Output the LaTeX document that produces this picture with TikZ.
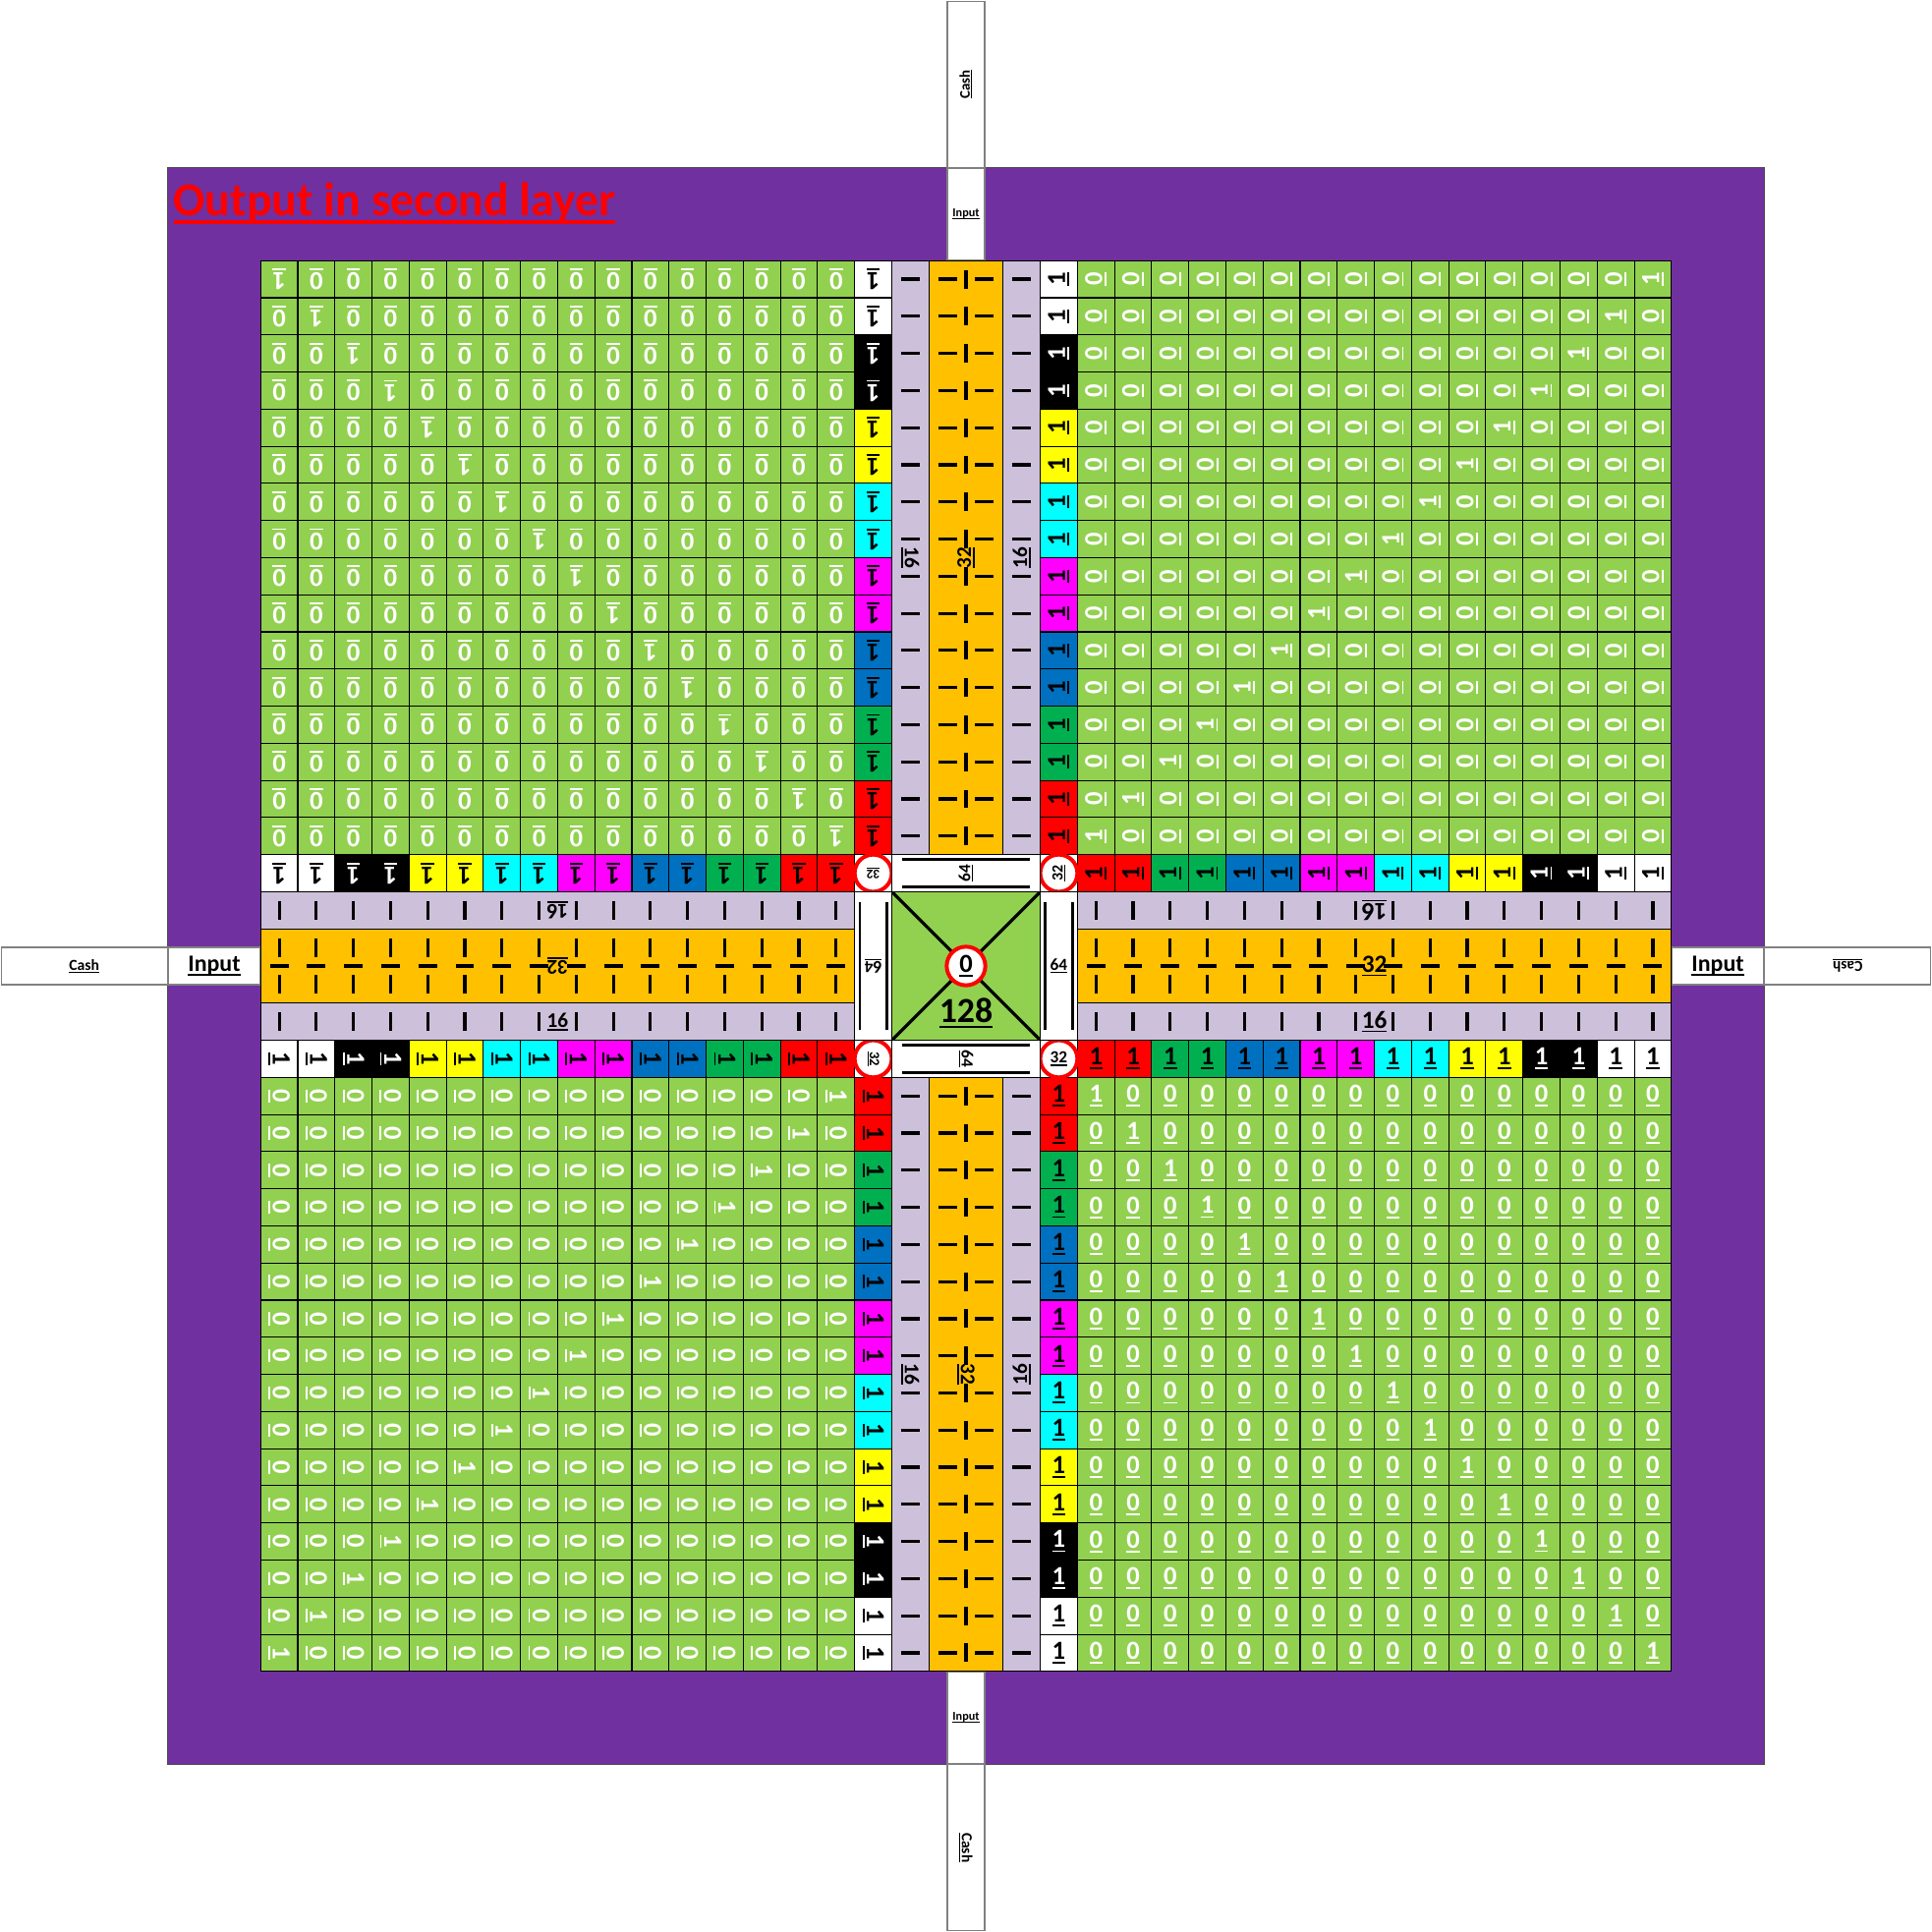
\documentclass[tikz,border=0pt]{standalone}
\usepackage{fontspec}
\setmainfont{Carlito}
\definecolor{cellgreen}{HTML}{92D050}
\definecolor{boardpurple}{HTML}{7030A0}
\definecolor{laneorange}{HTML}{FFC000}
\definecolor{lanelilac}{HTML}{CCC0DA}
\definecolor{bandgreen}{HTML}{00B050}
\definecolor{bandblue}{HTML}{0070C0}
\definecolor{bandcyan}{HTML}{00FFFF}
\definecolor{bandmagenta}{HTML}{FF00FF}
\definecolor{bandyellow}{HTML}{FFFF00}
\definecolor{bandred}{HTML}{FF0000}
\newcommand{\ulbox}[1]{\setbox0=\hbox{#1}\leavevmode\rlap{\vrule height -0.1em depth 0.17em width \wd0}\box0}
\newcommand{\fsz}[1]{\fontsize{#1}{#1}\selectfont}
\begin{document}
\begin{tikzpicture}[x=0.5cm,y=-0.5cm,
  cell/.style={draw=black,line width=0.4pt,minimum size=0.5cm,inner sep=0pt,font=\fsz{10}\bfseries},
  lane/.style={draw=black,line width=0.4pt},
  tick/.style={line width=1.2pt},
  rail/.style={line width=1.1pt},
  ring/.style={circle,draw=bandred,line width=1.5pt,fill=white,inner sep=0pt,minimum size=0.5cm},
  tag/.style={inner sep=0pt,font=\fsz{8}\bfseries},
  strip/.style={draw=gray,line width=0.6pt,fill=white}]
\useasboundingbox (-7.02,-7.02) rectangle (45.02,45.02);
\fill[white] (-7.02,-7.02) rectangle (45.02,45.02);
% board
\draw[fill=boardpurple,draw=gray!60!black,line width=0.5pt] (-2.5,-2.5) rectangle (40.5,40.5);
\node[anchor=base west,inner sep=0pt,text=bandred,font=\fsz{18}\bfseries] (title) at (-2.36,-1.21) {\ulbox{Output in second layer}};
% cash and input strips
\draw[strip] (18.5,-6.98) rectangle (19.5,-2.5);
\draw[strip] (18.5,-2.5) rectangle (19.5,0);
\draw[strip] (-6.98,18.5) rectangle (-2.5,19.5);
\draw[strip] (-2.5,18.5) rectangle (0,19.5);
\draw[strip] (38,18.5) rectangle (40.5,19.5);
\draw[strip] (40.5,18.5) rectangle (44.98,19.5);
\draw[strip] (18.5,38) rectangle (19.5,40.5);
\draw[strip] (18.5,40.5) rectangle (19.5,44.98);
\node[rotate=90,font=\fsz{5.6}\bfseries] (cash-n) at (19,-4.75) {\ulbox{Cash}};
\node[font=\fsz{4.6}\bfseries] (input-n) at (19,-1.25) {\ulbox{Input}};
\node[font=\fsz{5.9}\bfseries] (cash-w) at (-4.75,19) {\ulbox{Cash}};
\node[font=\fsz{9}\bfseries] (input-w) at (-1.25,19) {\ulbox{Input}};
\node[font=\fsz{9}\bfseries] (input-e) at (39.25,19) {\ulbox{Input}};
\node[rotate=180,font=\fsz{5.8}\bfseries] (cash-e) at (42.75,19) {\ulbox{Cash}};
\node[font=\fsz{4.6}\bfseries] (input-s) at (19,39.25) {\ulbox{Input}};
\node[rotate=-90,font=\fsz{5.8}\bfseries] (cash-s) at (19,42.75) {\ulbox{Cash}};
% green quadrants
\foreach \ro/\co/\rot in {0/0/180,0/22/90,22/0/-90,22/22/0}
  \foreach \i in {0,...,15}
    \foreach \j in {0,...,15} {
      \pgfmathtruncatemacro\rowi{\ro+\i}
      \pgfmathtruncatemacro\coli{\co+\j}
      \pgfmathtruncatemacro\bit{(\coli==\rowi)+(\coli+\rowi==37)}
      \node[cell,fill=cellgreen,text=white,rotate=\rot] (g-\rowi-\coli) at (\coli+0.5,\rowi+0.5) {\ulbox{\bit}};
    }
% coloured bands
\foreach \clr/\ink [count=\i from 0] in {white/black,white/black,black/white,black/white,bandyellow/black,bandyellow/black,bandcyan/black,bandcyan/black,bandmagenta/black,bandmagenta/black,bandblue/black,bandblue/black,bandgreen/black,bandgreen/black,bandred/black,bandred/black} {
  \pgfmathtruncatemacro\k{37-\i}
  \node[cell,fill=\clr,text=\ink,rotate=180] (col16-\i) at (16.5,\i+0.5) {\ulbox{1}};
  \node[cell,fill=\clr,text=\ink,rotate=-90] (col16-\k) at (16.5,\k+0.5) {\ulbox{1}};
  \node[cell,fill=\clr,text=\ink,rotate=90] (col21-\i) at (21.5,\i+0.5) {\ulbox{1}};
  \node[cell,fill=\clr,text=\ink] (col21-\k) at (21.5,\k+0.5) {\ulbox{1}};
  \node[cell,fill=\clr,text=\ink,rotate=180] (row16-\i) at (\i+0.5,16.5) {\ulbox{1}};
  \node[cell,fill=\clr,text=\ink,rotate=90] (row16-\k) at (\k+0.5,16.5) {\ulbox{1}};
  \node[cell,fill=\clr,text=\ink,rotate=-90] (row21-\i) at (\i+0.5,21.5) {\ulbox{1}};
  \node[cell,fill=\clr,text=\ink] (row21-\k) at (\k+0.5,21.5) {\ulbox{1}};
}
% lanes
\foreach \a/\b in {0/16,22/38} {
  \draw[lane,fill=lanelilac] (17,\a) rectangle (18,\b);
  \draw[lane,fill=laneorange] (18,\a) rectangle (20,\b);
  \draw[lane,fill=lanelilac] (20,\a) rectangle (21,\b);
  \draw[lane,fill=lanelilac] (\a,17) rectangle (\b,18);
  \draw[lane,fill=laneorange] (\a,18) rectangle (\b,20);
  \draw[lane,fill=lanelilac] (\a,20) rectangle (\b,21);
}
\foreach \a in {0,22}
  \foreach \i in {0,...,15} {
    \pgfmathsetmacro\m{\a+\i+0.5}
    \draw[tick] (17.25,\m) -- (17.75,\m) (20.25,\m) -- (20.75,\m)
                (18.25,\m) -- (18.75,\m) (19.25,\m) -- (19.75,\m)
                (19,\m-0.25) -- (19,\m+0.25);
    \draw[tick] (\m,17.25) -- (\m,17.75) (\m,20.25) -- (\m,20.75)
                (\m,18.25) -- (\m,18.75) (\m,19.25) -- (\m,19.75)
                (\m-0.25,19) -- (\m+0.25,19);
  }
\node[tag,rotate=180] (t16-nw) at (8,17.5) {\ulbox{16}};
\node[tag,rotate=180] (t32-w) at (8,19) {\ulbox{32}};
\node[tag] (t16-sw) at (8,20.5) {\ulbox{16}};
\node[tag,rotate=180,font=\fsz{9.5}\bfseries] (t16-ne) at (30,17.5) {\ulbox{16}};
\node[tag,font=\fsz{9.5}\bfseries] (t32-e) at (30,19) {\ulbox{32}};
\node[tag,font=\fsz{9.5}\bfseries] (t16-se) at (30,20.5) {\ulbox{16}};
\node[tag,rotate=-90] (t16-wn) at (17.5,8) {\ulbox{16}};
\node[tag,rotate=90] (t32-n) at (19,8) {\ulbox{32}};
\node[tag,rotate=90] (t16-en) at (20.5,8) {\ulbox{16}};
\node[tag,rotate=-90] (t16-ws) at (17.5,30) {\ulbox{16}};
\node[tag,rotate=-90] (t32-s) at (19,30) {\ulbox{32}};
\node[tag,rotate=90] (t16-es) at (20.5,30) {\ulbox{16}};
% centre
\node[lane,fill=cellgreen,minimum size=2cm,inner sep=0pt] (hub) at (19,19) {};
\draw[line width=1.2pt] (hub.north west) -- (hub.south east) (hub.north east) -- (hub.south west);
\node[ring,minimum size=0.52cm,font=\fsz{10}\bfseries] (zero) at (hub) {\ulbox{0}};
\node[anchor=base,inner sep=0pt,font=\fsz{13.5}\bfseries] (total) at (19,20.51) {\ulbox{128}};
\foreach \x/\y/\rot/\sz/\nm in {16.5/16.5/180/5/tl,21.5/16.5/90/6/tr,16.5/21.5/-90/5.5/bl,21.5/21.5/0/6.5/br} {
  \node[cell,fill=white] (corner-\nm) at (\x,\y) {};
  \node[ring,rotate=\rot,font=\fsz{\sz}\bfseries] (ring-\nm) at (corner-\nm) {\ulbox{32}};
}
\node[lane,fill=white,minimum width=2cm,minimum height=0.5cm,inner sep=0pt] (box-n) at (19,16.5) {};
\node[lane,fill=white,minimum width=2cm,minimum height=0.5cm,inner sep=0pt] (box-s) at (19,21.5) {};
\node[lane,fill=white,minimum width=0.5cm,minimum height=2cm,inner sep=0pt] (box-w) at (16.5,19) {};
\node[lane,fill=white,minimum width=0.5cm,minimum height=2cm,inner sep=0pt] (box-e) at (21.5,19) {};
\draw[rail] (17.27,16.14) -- (20.73,16.14) (17.27,16.86) -- (20.73,16.86);
\draw[rail] (17.27,21.14) -- (20.73,21.14) (17.27,21.86) -- (20.73,21.86);
\draw[rail] (16.14,17.27) -- (16.14,20.73) (16.86,17.27) -- (16.86,20.73);
\draw[rail] (21.14,17.27) -- (21.14,20.73) (21.86,17.27) -- (21.86,20.73);
\node[tag,rotate=90,font=\fsz{6.5}\bfseries] (t64-n) at (box-n) {\ulbox{64}};
\node[tag,rotate=-90,font=\fsz{6.5}\bfseries] (t64-s) at (box-s) {\ulbox{64}};
\node[tag,rotate=180,font=\fsz{6.5}\bfseries] (t64-w) at (box-w) {\ulbox{64}};
\node[tag,font=\fsz{6.5}\bfseries] (t64-e) at (box-e) {\ulbox{64}};
\end{tikzpicture}
\end{document}
